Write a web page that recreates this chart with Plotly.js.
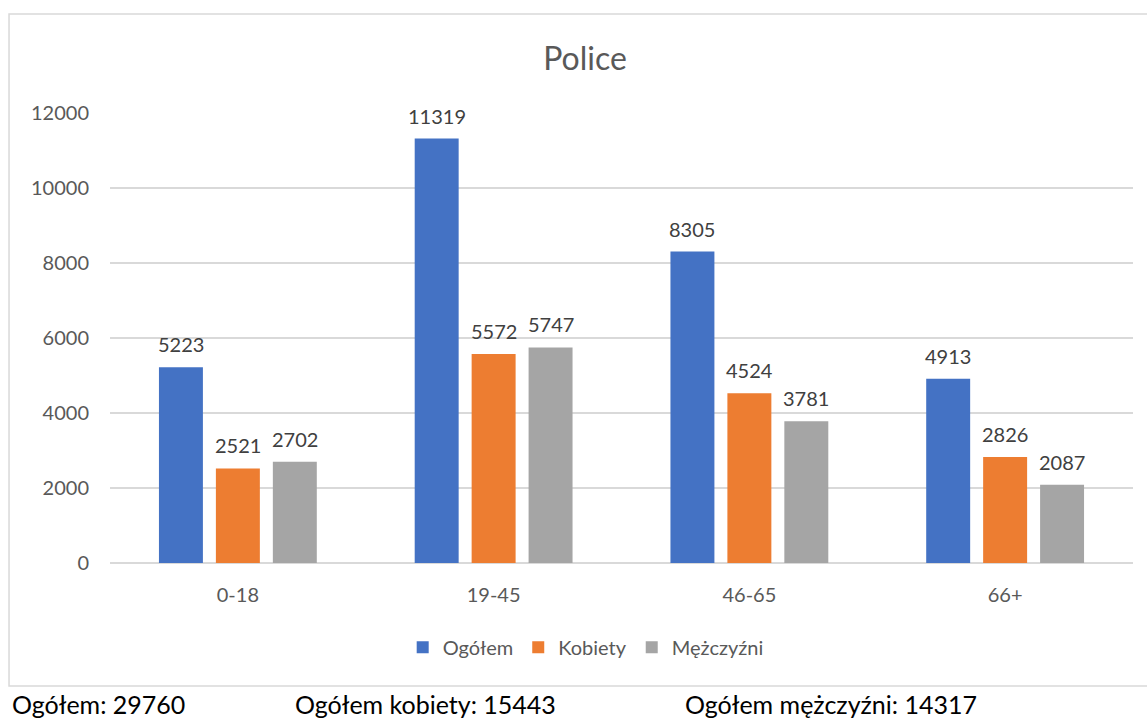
<!DOCTYPE html>
<html>
<head>
<meta charset="utf-8">
<script src="https://cdn.plot.ly/plotly-3.0.1.min.js"></script>
<style>
  html, body { margin: 0; padding: 0; background: #fff; }
  #chart { width: 1147px; height: 720px; }
</style>
</head>
<body>
<div id="chart"></div>
<script>
const categories = ['0-18', '19-45', '46-65', '66+'];
const seriesNames = ['Ogółem', 'Kobiety', 'Mężczyźni'];
const ogolem = [5223, 11319, 8305, 4913];
const kobiety = [2521, 5572, 4524, 2826];
const mezczyzni = [2702, 5747, 3781, 2087];
const yTicks = [0, 2000, 4000, 6000, 8000, 10000, 12000];
const titleText = 'Police';
const footerTexts = ['Ogółem: 29760', 'Ogółem kobiety: 15443', 'Ogółem mężczyźni: 14317'];

const colors = ['#4472C4', '#ED7D31', '#A5A5A5'];
const FONT = 'Lato, "Open Sans", sans-serif';
const bargap = 0.332;
const series = [ogolem, kobiety, mezczyzni];

const traces = series.map((vals, j) => ({
  type: 'bar',
  name: seriesNames[j],
  x: categories,
  y: vals,
  marker: { color: colors[j] },
  hoverinfo: 'x+y+name'
}));

const slot = (1 - bargap) / 3;
const annotations = [];
series.forEach((vals, j) => {
  vals.forEach((v, i) => {
    annotations.push({
      xref: 'x', yref: 'y',
      x: i + (j - 1) * slot,
      y: v,
      text: String(v),
      showarrow: false,
      yanchor: 'bottom',
      yshift: 9,
      font: { family: FONT, size: 20, color: '#404040' }
    });
  });
});

const footerX = [-0.0978, 0.1789, 0.5601];
footerTexts.forEach((t, k) => {
  annotations.push({
    xref: 'paper', yref: 'paper',
    x: footerX[k], y: -0.3125,
    xanchor: 'left', yanchor: 'middle',
    text: t, showarrow: false,
    font: { family: FONT, size: 25, color: '#000000' }
  });
});

const layout = {
  width: 1147, height: 720,
  margin: { l: 110, r: 14, t: 113, b: 157 },
  paper_bgcolor: '#ffffff',
  plot_bgcolor: '#ffffff',
  font: { family: FONT, color: '#595959' },
  barmode: 'group',
  bargap: bargap,
  bargroupgap: 0.228,
  title: {
    text: titleText,
    x: 0.51, xref: 'container', xanchor: 'center',
    y: 0.919, yref: 'container', yanchor: 'middle',
    font: { family: FONT, size: 32, color: '#595959' }
  },
  xaxis: {
    type: 'category',
    showgrid: false,
    showline: false,
    ticks: '',
    tickfont: { family: FONT, size: 20, color: '#595959' },
    ticklabelstandoff: 18,
    fixedrange: true
  },
  yaxis: {
    range: [0, 12000],
    tickvals: yTicks,
    ticktext: yTicks.map(String),
    showgrid: true,
    gridcolor: '#D9D9D9',
    gridwidth: 1.3,
    zeroline: true,
    zerolinecolor: '#D9D9D9',
    zerolinewidth: 1.3,
    showline: false,
    ticks: '',
    tickfont: { family: FONT, size: 20, color: '#595959' },
    ticklabelstandoff: 20,
    fixedrange: true
  },
  showlegend: true,
  legend: {
    orientation: 'h',
    x: 0.465, xanchor: 'center',
    y: -0.187, yanchor: 'middle',
    font: { family: FONT, size: 20, color: '#595959' },
    itemwidth: 30,
    traceorder: 'normal'
  },
  shapes: [{
    type: 'rect', xref: 'paper', yref: 'paper',
    x0: -0.0987, x1: 1.03, y0: -0.2733, y1: 1.22,
    line: { color: '#D9D9D9', width: 1.5 },
    fillcolor: 'rgba(0,0,0,0)',
    layer: 'below'
  }],
  annotations: annotations
};

Plotly.newPlot('chart', traces, layout, { displayModeBar: false, staticPlot: true });
</script>
</body>
</html>
